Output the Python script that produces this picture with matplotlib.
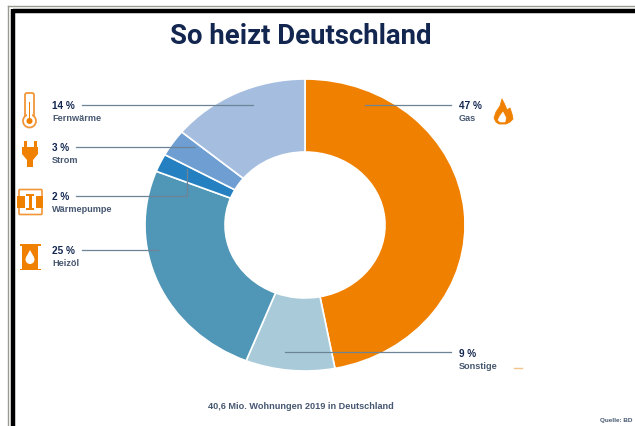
import matplotlib
matplotlib.use("Agg")
import matplotlib.pyplot as plt
from matplotlib.patches import Circle, FancyBboxPatch, Polygon, Rectangle

WIDTH, HEIGHT = 635, 427
NAVY = "#12264f"
GREY_TEXT = "#465770"
LEADER = "#6d8496"
ORANGE = "#f08000"
LIGHT_ORANGE = "#f2963a"

categories = ["Gas", "Sonstige", "Heizöl", "Wärmepumpe", "Strom", "Fernwärme"]
shares = [47, 9, 25, 2, 3, 14]
colors = ["#f08000", "#a9cbd9", "#5096b6", "#2480c0", "#6f9ed2", "#a5bee0"]


def draw_flame(ax, x, y):
    outer = [(0, -18), (3, -12), (5, -7), (8, -9), (10, -3), (11, 2), (8, 5), (4, 7),
             (-3, 7), (-6, 5), (-8, 1), (-6, -5), (-2, -11)]
    inner = [(1, -5), (4, 1), (3, 5), (-2, 5), (-4, 3), (-2, -1)]
    ax.add_patch(Polygon([(x + a, y + b) for a, b in outer], fc=ORANGE, ec=ORANGE, lw=0.6, joinstyle="round"))
    ax.add_patch(Polygon([(x + a, y + b) for a, b in inner], fc="white", ec="white", lw=0.4, joinstyle="round"))


def draw_thermometer(ax, x, y):
    ax.add_patch(FancyBboxPatch((x - 2.5, y - 15), 5, 25, boxstyle="round,pad=2",
                                fc="white", ec=LIGHT_ORANGE, lw=1.3))
    ax.add_patch(Circle((x, y + 11), 6.5, fc="white", ec=LIGHT_ORANGE, lw=1.3))
    ax.add_patch(Rectangle((x - 2.4, y + 2), 4.8, 6, fc="white", ec="none"))
    ax.add_patch(Rectangle((x - 0.8, y - 8), 1.6, 19, fc=ORANGE, ec="none"))
    ax.add_patch(Circle((x, y + 11), 3, fc=ORANGE, ec="none"))


def draw_plug(ax, x, y):
    ax.add_patch(Rectangle((x - 6.5, y - 13), 3, 7, fc=ORANGE, ec="none"))
    ax.add_patch(Rectangle((x + 3.5, y - 13), 3, 7, fc=ORANGE, ec="none"))
    ax.add_patch(Polygon([(x - 8, y - 7), (x + 8, y - 7), (x + 8, y), (x + 3, y + 6),
                          (x + 3, y + 13), (x - 3, y + 13), (x - 3, y + 6), (x - 8, y)],
                         fc=ORANGE, ec="none"))


def draw_pump(ax, x, y):
    ax.add_patch(FancyBboxPatch((x - 10, y - 11.5), 21, 23, boxstyle="round,pad=1",
                                fc="white", ec=LIGHT_ORANGE, lw=1.2))
    ax.add_patch(Rectangle((x - 13, y - 6), 8, 12, fc=ORANGE, ec="none"))
    ax.add_patch(Rectangle((x + 6, y - 6), 7, 12, fc=ORANGE, ec="none"))
    ax.add_patch(Rectangle((x - 1.5, y - 7), 3, 14, fc=ORANGE, ec="none"))
    ax.add_patch(Rectangle((x - 4, y - 8), 8, 2, fc=ORANGE, ec="none"))
    ax.add_patch(Rectangle((x - 4, y + 6), 8, 2, fc=ORANGE, ec="none"))


def draw_barrel(ax, x, y):
    ax.add_patch(Rectangle((x - 8, y - 12), 16, 24, fc=ORANGE, ec="none"))
    ax.add_patch(Rectangle((x - 10.5, y - 13), 21, 1.6, fc=ORANGE, ec="none"))
    ax.add_patch(Rectangle((x - 10.5, y + 11.5), 21, 1.6, fc=ORANGE, ec="none"))
    ax.add_patch(Circle((x, y + 2.5), 4.5, fc="white", ec="none"))
    ax.add_patch(Polygon([(x, y - 7), (x + 3.8, y), (x - 3.8, y)], fc="white", ec="none"))


def add_label(ax, x, y, value, name):
    ax.text(x, y, f"{value} %", fontsize=7.2, fontweight="bold", color=NAVY, va="center")
    ax.text(x, y + 12.5, name, fontsize=6.6, fontweight="bold", color=GREY_TEXT, va="center")


plt.rcParams["font.family"] = ["Liberation Sans", "DejaVu Sans"]
fig = plt.figure(figsize=(WIDTH / 100, HEIGHT / 100), dpi=100, facecolor="white")

# donut, stretched a little wider than tall
ax_pie = fig.add_axes([145 / WIDTH, (HEIGHT - 372) / HEIGHT, 320 / WIDTH, 292 / HEIGHT])
ax_pie.pie(shares, colors=colors, startangle=90, counterclock=False, radius=1,
           wedgeprops={"width": 0.5, "edgecolor": "white", "linewidth": 1.2, "clip_on": False})
ax_pie.set_xlim(-1, 1)
ax_pie.set_ylim(-1, 1)
ax_pie.set_aspect("auto")

# everything else sits on an overlay in pixel units
ax = fig.add_axes([0, 0, 1, 1], zorder=5)
ax.set_xlim(0, WIDTH)
ax.set_ylim(HEIGHT, 0)
ax.axis("off")

# window frame
ax.plot([8, 635], [7, 7], color="#9a9a90", lw=1)
ax.plot([8, 8], [7, 427], color="#9a9a90", lw=1)
ax.plot([13, 635], [11.5, 11.5], color="black", lw=3.2, solid_capstyle="butt")
ax.plot([13, 13], [10, 427], color="black", lw=3.2, solid_capstyle="butt")

ax.text(300.5, 36, "So heizt Deutschland", fontsize=19.8, fontweight="bold",
        family="Roboto", color=NAVY, ha="center", va="center")

# leader lines
ax.plot([82, 253], [106, 106], color=LEADER, lw=0.9)
ax.plot([76, 195], [148, 148], color=LEADER, lw=0.9)
ax.plot([76, 187, 187], [197, 197, 170], color=LEADER, lw=0.9)
ax.plot([82, 158], [251, 251], color=LEADER, lw=0.9)
ax.plot([365, 451], [106, 106], color=LEADER, lw=0.9)
ax.plot([285, 451], [353, 353], color=LEADER, lw=0.9)

add_label(ax, 52, 106, shares[5], categories[5])
add_label(ax, 52, 148, shares[4], categories[4])
add_label(ax, 52, 197, shares[3], categories[3])
add_label(ax, 52, 251, shares[2], categories[2])
add_label(ax, 459, 106, shares[0], categories[0])
add_label(ax, 459, 354.5, shares[1], categories[1])

draw_thermometer(ax, 29.5, 111)
draw_plug(ax, 30, 155)
draw_pump(ax, 30, 203)
draw_barrel(ax, 30, 258)
draw_flame(ax, 502, 118)
ax.plot([514, 522], [369, 369], color="#f4c48c", lw=1)

ax.text(301, 407, "40,6 Mio. Wohnungen 2019 in Deutschland", fontsize=6.6, fontweight="bold",
        color=GREY_TEXT, ha="center", va="center")
ax.text(632, 421, "Quelle: BD", fontsize=4.6, fontweight="bold", color=GREY_TEXT,
        ha="right", va="center")

fig.savefig("out.png", dpi=100)
